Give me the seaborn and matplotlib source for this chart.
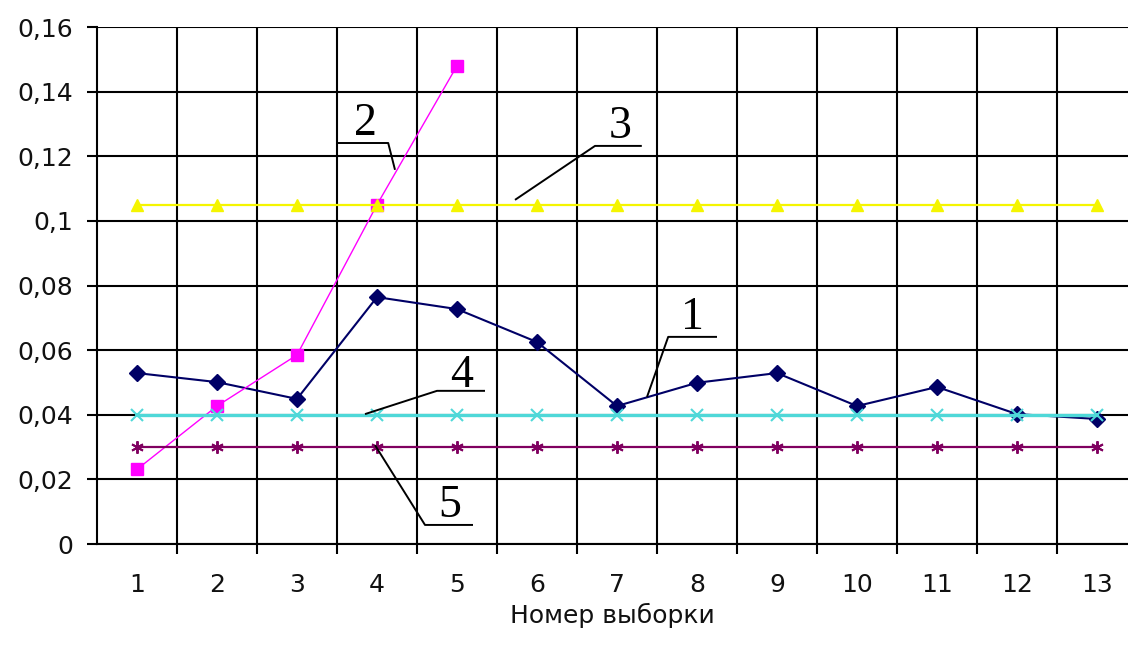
import matplotlib
matplotlib.use("Agg")
import matplotlib.pyplot as plt
import seaborn as sns
import pandas as pd
import numpy as np
from matplotlib.ticker import FixedLocator

# ---- data ----
samples = list(range(1, 14))
series1 = [0.0529, 0.0501, 0.0449, 0.0764, 0.0727, 0.0625, 0.0427, 0.0499, 0.0529, 0.0427, 0.0486, 0.0402, 0.0387]
series2 = [0.0231, 0.0427, 0.0585, 0.1050, 0.1480]
series3 = [0.105] * 13
series4 = [0.040] * 13
series5 = [0.030] * 13
y_ticks = [0, 0.02, 0.04, 0.06, 0.08, 0.10, 0.12, 0.14, 0.16]
y_tick_labels = ["0", "0,02", "0,04", "0,06", "0,08", "0,1", "0,12", "0,14", "0,16"]
x_label = "Номер выборки"

sns.set_style("white")
plt.rcParams['font.family'] = ['DejaVu Sans']

W, H = 1128, 648
fig = plt.figure(figsize=(W / 100, H / 100), dpi=100)
ax_left, ax_bottom, ax_top = 97, 544, 27
ax = fig.add_axes([ax_left / W, 1 - ax_bottom / H, (W - ax_left) / W, (ax_bottom - ax_top) / H])

ax.set_axisbelow(True)

def draw(xs, ys, color, marker, ms, lw, mew=1.0, mfc=None, z=3):
    df = pd.DataFrame({"x": xs, "y": ys})
    sns.lineplot(data=df, x="x", y="y", ax=ax, color=color, lw=lw, marker=marker,
                 markersize=ms, markeredgecolor=color, markerfacecolor=mfc or color,
                 markeredgewidth=mew, zorder=z, legend=False)

draw(samples, series1, "#000066", "D", 8, 1.5, z=3)
draw(samples[:len(series2)], series2, "#FF00FF", "s", 9, 1.0, z=4)
draw(samples, series3, "#F5F500", "^", 8.5, 1.6, z=5)
draw(samples, series4, "#4FD8D8", "x", 8, 2.4, mew=1.5, z=6)
draw(samples, series5, "#800060", (6, 2, 0), 9, 1.6, mew=1.4, z=7)

ax.set_xlim(0.5, 0.5 + (W - ax_left) / 80)
ax.set_ylim(0, 0.16)
ax.set_xticks(samples)
ax.set_xticklabels([str(s) for s in samples])
ax.xaxis.set_minor_locator(FixedLocator([s + 0.5 for s in samples]))
ax.set_yticks(y_ticks)
ax.set_yticklabels(y_tick_labels)

ax.tick_params(axis="x", which="major", length=0, pad=21, labelsize=18, labelcolor="#111111")
ax.tick_params(axis="x", which="minor", length=7, width=1.5, color="black", bottom=True)
ax.tick_params(axis="y", which="major", length=7, width=1.5, color="black", left=True, pad=10,
               labelsize=18, labelcolor="#111111")

ax.grid(False)
ax.grid(True, axis="y", which="major", color="black", lw=1.5)
ax.grid(True, axis="x", which="minor", color="black", lw=1.5)

for side in ["top", "right"]:
    ax.spines[side].set_visible(False)
for side in ["left", "bottom"]:
    ax.spines[side].set_color("black")
    ax.spines[side].set_linewidth(1.5)

ax.set_xlabel(x_label, fontsize=18, color="#111111", labelpad=4)
ax.set_ylabel("")

# callout labels with leader lines: (label, text pos, leader polyline)
callouts = [
    ("1", (7.94, 0.0700), [(8.25, 0.0641), (7.64, 0.0641), (7.375, 0.0455)]),
    ("2", (3.85, 0.1300), [(3.51, 0.1241), (4.14, 0.1241), (4.225, 0.1158)]),
    ("3", (7.04, 0.1290), [(7.31, 0.1232), (6.725, 0.1232), (5.725, 0.1065)]),
    ("4", (5.06, 0.0522), [(5.35, 0.0474), (4.75, 0.0474), (3.85, 0.0402)]),
    ("5", (4.91, 0.0118), [(5.20, 0.0059), (4.60, 0.0059), (3.975, 0.0306)]),
]
for lab, (tx, ty), pts in callouts:
    xs = [p[0] for p in pts]
    ys = [p[1] for p in pts]
    ax.plot(xs, ys, color="black", lw=1.4, zorder=8, solid_capstyle="butt")
    ax.text(tx, ty, lab, fontsize=33, family="Liberation Serif", color="black",
            ha="center", va="center", zorder=9)

fig.savefig("out.png", dpi=100, facecolor="white")
